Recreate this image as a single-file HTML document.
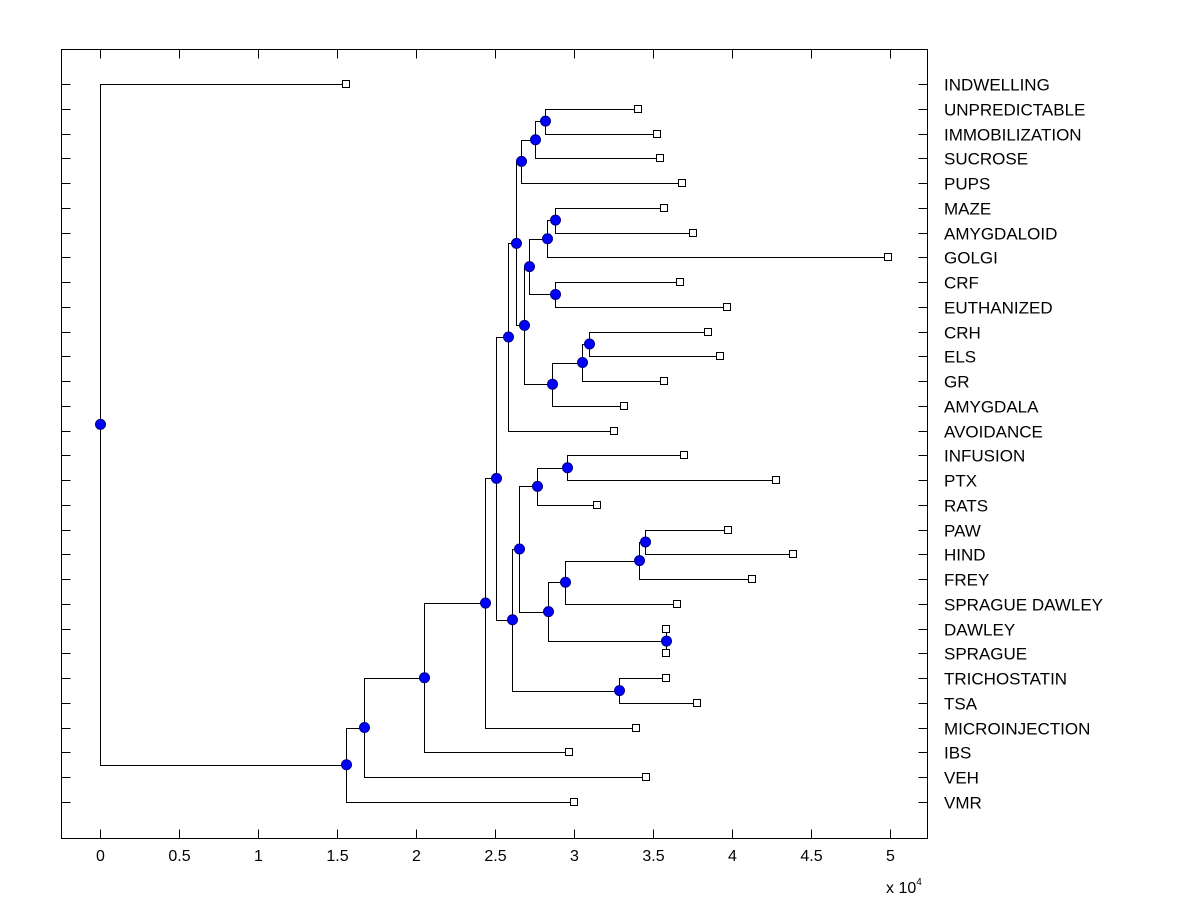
<!DOCTYPE html>
<html><head><meta charset="utf-8"><style>
html,body{margin:0;padding:0;background:#fff;}
svg{display:block;font-family:"Liberation Sans",Arial,sans-serif;}
</style></head><body>
<svg id="chart" width="1200" height="900" viewBox="0 0 1200 900"></svg>
<script>
const leafNames = ["INDWELLING","UNPREDICTABLE","IMMOBILIZATION","SUCROSE","PUPS","MAZE","AMYGDALOID","GOLGI","CRF","EUTHANIZED","CRH","ELS","GR","AMYGDALA","AVOIDANCE","INFUSION","PTX","RATS","PAW","HIND","FREY","SPRAGUE DAWLEY","DAWLEY","SPRAGUE","TRICHOSTATIN","TSA","MICROINJECTION","IBS","VEH","VMR"];
const leafValues = [1.557,3.405,3.525,3.544,3.684,3.57,3.753,4.987,3.67,3.968,3.848,3.924,3.57,3.316,3.253,3.696,4.278,3.146,3.975,4.386,4.127,3.652,3.582,3.582,3.582,3.778,3.392,2.968,3.456,2.999];
const mergeChildren = [
 ["UNPREDICTABLE","IMMOBILIZATION"],
 ["n0","SUCROSE"],
 ["n1","PUPS"],
 ["MAZE","AMYGDALOID"],
 ["n3","GOLGI"],
 ["CRF","EUTHANIZED"],
 ["n4","n5"],
 ["CRH","ELS"],
 ["n7","GR"],
 ["n8","AMYGDALA"],
 ["n6","n9"],
 ["n2","n10"],
 ["n11","AVOIDANCE"],
 ["INFUSION","PTX"],
 ["n13","RATS"],
 ["PAW","HIND"],
 ["n15","FREY"],
 ["n16","SPRAGUE DAWLEY"],
 ["DAWLEY","SPRAGUE"],
 ["n17","n18"],
 ["n14","n19"],
 ["TRICHOSTATIN","TSA"],
 ["n20","n21"],
 ["n12","n22"],
 ["n23","MICROINJECTION"],
 ["n24","IBS"],
 ["n25","VEH"],
 ["n26","VMR"],
 ["INDWELLING","n27"]
];
const mergeHeights = [2.816,2.753,2.664,2.88,2.829,2.88,2.715,3.095,3.05,2.861,2.684,2.63,2.58,2.956,2.766,3.45,3.411,2.943,3.582,2.835,2.652,3.285,2.608,2.506,2.437,2.05,1.67,1.557,0];
const xTicks = [0,0.5,1,1.5,2,2.5,3,3.5,4,4.5,5];
const xTickLabels = ["0","0.5","1","1.5","2","2.5","3","3.5","4","4.5","5"];

const L=61.5,R=927.5,T=49.5,B=838.5;
const x = v => 100 + v*158;
const y = i => 84 + i*(802-84)/29;
const NS="http://www.w3.org/2000/svg";
const svg=document.getElementById('chart');
function mk(tag,attrs,parent){const e=document.createElementNS(NS,tag);for(const k in attrs)e.setAttribute(k,attrs[k]);(parent||svg).appendChild(e);return e;}

const frame=mk('rect',{x:L,y:T,width:R-L,height:B-T,fill:'none',stroke:'#000','stroke-width':1});



const xg=mk('g',{});


xTicks.forEach((t,i)=>{
  const px=Math.round(x(t))+0.5;
  mk('line',{x1:px,x2:px,y1:B,y2:B-9,stroke:'#000'},xg);
  mk('line',{x1:px,x2:px,y1:T,y2:T+9,stroke:'#000'},xg);
  const tx=mk('text',{x:px,y:861,'font-size':16,'text-anchor':'middle'},xg);
  tx.textContent=xTickLabels[i];
  
  
});
const ex=mk('text',{x:886,y:893,'font-size':16},svg);
ex.innerHTML='x 10<tspan font-size="10" dy="-8">4</tspan>';



const yg=mk('g',{});


leafNames.forEach((n,i)=>{
  const py=Math.round(y(i))+0.5;
  mk('line',{x1:L,x2:L+9,y1:py,y2:py,stroke:'#000'},yg);
  mk('line',{x1:R,x2:R-9,y1:py,y2:py,stroke:'#000'},yg);
  const tx=mk('text',{x:944,y:py+6,'font-size':17},yg);
  tx.textContent=n;
  
  
});

const pos={};
leafNames.forEach((n,i)=>{pos[n]={x:x(leafValues[i]),y:y(i)};});
const lg=mk('g',{});


const nodeList=[];
mergeChildren.forEach((c,i)=>{
  const a=pos[c[0]],b=pos[c[1]];
  const hx=Math.round(x(mergeHeights[i]))+0.5;
  const ny=(a.y+b.y)/2;
  pos['n'+i]={x:hx,y:ny};
  const p=mk('path',{d:`M${a.x} ${Math.round(a.y)+0.5}H${hx}V${Math.round(b.y)+0.5}H${b.x}`,fill:'none',stroke:'#000','stroke-width':1},lg);
  
  
  nodeList.push({x:hx,y:ny});
});
leafNames.forEach((n,i)=>{
  const r=mk('rect',{x:Math.round(pos[n].x)-3.5,y:Math.round(pos[n].y)-3.5,width:7,height:7,fill:'#fff',stroke:'#000'});
  
  
});
nodeList.forEach(p=>{
  const c=mk('circle',{cx:p.x,cy:p.y,r:5,fill:'#0000ff',stroke:'#000080','stroke-width':1});
  
  
});
</script>
</body></html>
